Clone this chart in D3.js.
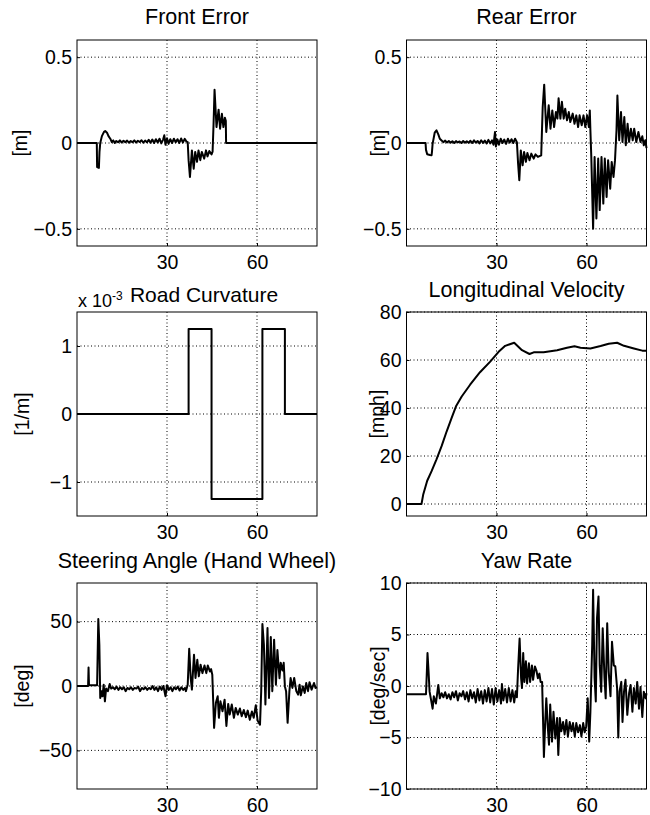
<html>
<head>
<script src="https://cdn.jsdelivr.net/npm/d3@7"></script>
<style>
  body { margin: 0; background: #fff; }
  text { font-family: "Liberation Sans", Arial, Helvetica, sans-serif; fill: #000; }
</style>
</head>
<body>
<script>
// time axis ticks shared by all panels
var xTicks = [30, 60];
var xTickLabels = ["30", "60"];

// [time s, value] pairs
var frontError = [[0,0],[6.6,0],[6.7,-0.14],[7.3,-0.145],[7.5,-0.05],[7.75,0.0],[8.3,0.04],[9.0,0.065],[9.4,0.07],[10.0,0.06],[10.5,0.04],[11.1,0.025],[11.6,0.005],
  [12.1,0.015],[12.6,0.0],[13.1,0.012],[13.7,0.004],[14.3,0.015],[14.9,0.003],[15.5,0.013],[16.1,0.005],[16.7,0.014],[17.3,0.002],[17.9,0.012],[18.5,0.004],[19.1,0.015],[19.7,0.003],[20.3,0.013],[20.9,0.006],[21.5,0.016],[22.1,0.002],[22.7,0.014],[23.3,0.004],[23.9,0.018],[24.5,0.002],[25.1,0.02],[25.7,0.0],[26.3,0.022],[26.9,0.003],[27.5,0.025],[28.1,-0.002],[28.7,0.02],[29.1,0.045],[29.5,-0.01],[30.0,0.028],[30.5,-0.005],[31.1,0.022],[31.7,0.0],[32.3,0.025],[32.9,0.004],[33.5,0.022],[34.1,0.0],[34.7,0.026],[35.3,0.003],[35.9,0.024],[36.5,0.008],[36.9,0.005],
  [37.2,-0.1],[37.65,-0.198],[38.3,-0.043],[38.9,-0.15],[39.4,-0.052],[40.0,-0.11],[40.5,-0.043],[41.1,-0.1],[41.6,-0.052],[42.4,-0.091],[43.0,-0.043],[43.5,-0.078],[44.1,-0.047],[44.85,-0.066],[45.2,-0.05],[45.5,0.1],[45.85,0.31],[46.5,0.093],[47.2,0.194],[47.7,0.083],[48.3,0.17],[48.8,0.093],[49.3,0.147],[49.6,0.13],[49.7,0],[80,0]];

var rearError = [[0,0],[6.35,0],[6.5,-0.04],[6.9,-0.066],[7.8,-0.07],[8.35,-0.072],[8.5,-0.05],[8.7,-0.005],[9.4,0.06],[10.0,0.074],[10.6,0.05],[11.1,0.025],[11.7,0.015],[12.3,0.005],
  [12.9,0.014],[13.5,0.003],[14.1,0.012],[14.7,0.002],[15.3,0.01],[15.9,0.0],[16.5,0.011],[17.1,0.003],[17.7,0.009],[18.3,0.0],[18.9,0.012],[19.5,0.002],[20.1,0.01],[20.7,0.001],[21.3,0.013],[21.9,0.0],[22.5,0.015],[23.1,0.002],[23.7,0.012],[24.3,-0.002],[24.9,0.016],[25.5,0.0],[26.1,0.014],[26.7,-0.003],[27.3,0.018],[27.9,-0.002],[28.5,0.015],[29.0,-0.01],[29.5,0.064],[29.8,-0.02],[30.3,0.02],[30.8,-0.01],[31.4,0.025],[32.0,0.0],[32.6,0.02],[33.2,-0.005],[33.8,0.025],[34.4,0.002],[35.0,0.022],[35.6,0.0],[36.2,0.025],[36.8,0.005],
  [37.2,-0.12],[37.6,-0.217],[38.1,-0.043],[38.7,-0.13],[39.2,-0.052],[39.8,-0.11],[40.3,-0.058],[41.0,-0.10],[41.6,-0.062],[42.4,-0.091],[43.0,-0.066],[43.8,-0.081],[44.9,-0.072],
  [45.4,0.21],[45.9,0.34],[46.6,0.064],[47.4,0.22],[48.0,0.083],[48.6,0.19],[49.2,0.093],[49.8,0.18],[50.3,0.142],[50.7,0.26],[51.3,0.142],[51.8,0.24],[52.4,0.142],[52.9,0.2],[53.5,0.132],[54.1,0.18],[54.6,0.122],[55.4,0.171],[56.0,0.112],[56.6,0.161],[57.2,0.093],[57.7,0.161],[58.4,0.103],[59.0,0.161],[59.6,0.093],[60.2,0.161],[60.8,0.093],[61.1,0.19],[61.3,0.074],[61.6,-0.081],[62.2,-0.5],[62.7,-0.081],[63.3,-0.44],[63.9,-0.091],[64.4,-0.391],[65.0,-0.081],[65.6,-0.353],[66.1,-0.091],[66.7,-0.314],[67.2,-0.1],[67.9,-0.266],[68.4,-0.110],[69.0,-0.198],[69.5,-0.1],[70.0,0.074],[70.3,0.277],[70.9,0.016],[71.5,0.18],[72.0,0.006],[72.6,0.151],[73.1,-0.013],[73.7,0.112],[74.2,0.006],[74.8,0.083],[75.4,0.016],[75.9,0.083],[76.6,0.006],[77.3,0.064],[78.0,0.006],[78.6,0.039],[79.1,-0.013],[79.6,0.016],[80,-0.03]];

var roadCurvature = [[0,0],[37.2,0],[37.2,0.00125],[44.85,0.00125],[44.85,-0.00125],[61.8,-0.00125],[61.8,0.00125],[69.3,0.00125],[69.3,0],[80,0]];

var velocity = [[0,0],[5.0,0],[5.6,4.1],[6.9,9.7],[8.4,13.8],[10.0,18.6],[11.7,24.1],[13.4,30.3],[15.05,35.9],[16.5,40.7],[18.4,44.8],[21.2,49.7],[24.5,54.9],[27.9,59.3],[30.7,63.4],[32.9,65.9],[35.9,67.2],[38.5,64.1],[41.0,62.5],[42.4,63.2],[45.7,63.2],[50.2,64.1],[53.5,65.1],[56.0,65.7],[58.0,65.1],[61.3,64.8],[64.7,65.8],[67.4,66.8],[70.2,67.2],[72.5,65.9],[75.8,64.8],[78.6,63.9],[80,63.9]];

var steering = [[0,0],[3.7,0],[3.85,14.4],[4.0,0.5],[6.7,0.5],[7.1,52],[7.45,32],[7.75,-9.3],[8.2,-4],[8.5,-8],[8.9,1],[9.3,-11.9],[9.7,-2],[10.3,-4],[10.9,1.5],[11.4,-2],
  [12.0,-1],[12.6,-2.5],[13.2,-0.5],[13.8,-3],[14.4,-1],[15.0,-2.5],[15.6,-1],[16.2,-4],[16.8,-1.5],[17.4,-2.5],[18.0,-1],[18.6,-3],[19.2,-1.5],[19.8,-2],[20.4,-0.5],[21.0,-4],[21.6,-1.5],[22.2,-2.5],[22.8,-1],[23.4,-3],[24.0,-1.5],[24.6,-2.5],[25.2,0],[25.8,-3],[26.4,-1],[27.0,-4],[27.6,-0.5],[28.2,-3],[28.8,0],[29.5,-8],[30.0,0.5],[30.6,-3],[31.2,-1],[31.8,-4],[32.4,-1],[33.0,-2.5],[33.6,-0.5],[34.2,-3.5],[34.8,-1],[35.4,-3],[36.0,-1.5],[36.3,-4],
  [36.9,1],[37.4,28.9],[37.9,6.2],[38.3,-2.8],[39.0,24.2],[39.5,6.2],[40.1,20.4],[40.6,7.5],[41.2,16.5],[41.8,10],[42.5,15.9],[43.1,10],[43.6,15.9],[44.3,11.3],[44.7,13.1],[45.1,8.8],[45.4,-11.9],[45.7,-32.5],[46.3,-13.1],[46.9,-8],[47.3,-24.7],[47.8,-11.9],[48.5,-19.6],[49.2,-10.6],[49.8,-31],[50.4,-13.9],[50.9,-22.2],[51.6,-14.4],[52.3,-24.7],[52.9,-17],[53.6,-22.2],[54.3,-17.5],[54.9,-23.5],[55.6,-18.6],[56.3,-24.2],[56.9,-19.1],[57.6,-26.3],[58.3,-19.8],[58.9,-24.7],[59.6,-14.9],[60.2,-26.8],[61.0,-30],[61.4,-4],[61.8,48.2],[62.3,32],[62.8,-14.4],[63.5,45],[64.0,-9.3],[64.6,38],[65.1,-4],[65.7,36],[66.3,1],[66.8,28],[67.5,6],[67.9,18],[68.5,12],[68.9,18],[69.3,-0.3],[69.7,-4],[70.2,-28.6],[70.8,-4],[71.2,6.2],[71.8,-1.5],[72.4,6.2],[73.1,-4],[73.7,-6.7],[74.2,1],[74.6,-7.2],[75.3,-0.3],[75.9,-5.4],[76.4,2.3],[77.0,-4],[77.5,3],[78.2,-2.8],[79.0,2.3],[79.5,-1.5],[80,-1]];

var yawRate = [[0,-0.8],[6.5,-0.8],[6.8,1.5],[7.0,3.2],[7.3,1.7],[7.7,-0.55],[8.1,-1.2],[8.7,-2.2],[9.1,-1.0],[9.8,-1.7],[10.6,0.1],[11.1,-1.2],[11.7,-0.7],[12.3,-1.1],[12.9,-0.6],
  [13.5,-1.2],[14.1,-0.8],[14.7,-1.3],[15.3,-0.6],[15.9,-1.1],[16.5,-0.5],[17.1,-1.4],[17.7,-0.7],[18.3,-1.0],[18.9,-0.5],[19.5,-1.3],[20.1,-0.6],[20.7,-1.5],[21.3,-0.4],[21.9,-1.2],[22.5,-0.6],[23.1,-1.6],[23.7,-0.3],[24.3,-1.4],[24.9,-0.5],[25.5,-1.7],[26.1,-0.4],[26.7,-1.5],[27.3,-0.2],[27.9,-1.6],[28.5,-0.3],[29.1,-1.8],[29.7,-0.2],[30.3,-1.5],[30.9,-0.4],[31.5,-1.7],[31.8,0.2],[32.3,-1.4],[32.9,-0.3],[33.5,-1.6],[34.1,-0.2],[34.7,-1.5],[35.3,-0.4],[35.9,-1.6],[36.4,-0.5],[36.8,-1.1],
  [37.2,1.7],[37.7,4.6],[38.2,0.75],[38.5,-0.2],[38.9,3.2],[39.3,0.4],[39.8,2.4],[40.2,0.25],[40.8,2.2],[41.2,0.4],[41.8,2.0],[42.2,0.6],[42.8,1.9],[43.3,1.5],[43.8,0.75],[44.3,1.2],[44.7,0.4],
  [45.2,0.4],[45.5,-3.1],[45.8,-6.9],[46.3,-3.1],[46.6,-1.2],[47.1,-4.0],[47.5,-5.7],[47.9,-1.8],[48.5,-5.4],[49.0,-2.5],[49.6,-5.1],[50.2,-3.1],[50.6,-6.7],[51.1,-3.1],[51.6,-4.4],[52.2,-3.5],[52.7,-4.7],[53.3,-3.3],[53.8,-4.9],[54.4,-3.5],[55.0,-4.4],[55.5,-3.6],[56.1,-4.9],[56.6,-3.6],[57.2,-4.5],[57.8,-3.8],[58.3,-4.9],[58.9,-3.6],[59.4,-4.5],[59.9,-3.9],[60.4,-1.2],[60.9,-5.4],[61.3,-2.5],[61.9,4.0],[62.2,9.35],[62.7,0.75],[63.1,-1.5],[63.5,6.6],[64.0,8.7],[64.4,2.0],[64.9,-0.55],[65.4,5.6],[66.0,0.75],[66.4,-1.2],[66.9,6.1],[67.4,1.4],[68.0,-1.0],[68.5,4.3],[69.1,2.0],[69.6,1.9],[70.2,-0.2],[70.6,-5.0],[71.0,-0.55],[71.6,0.4],[72.0,-3.5],[72.5,-0.55],[73.0,0.6],[73.6,-2.8],[74.2,-0.7],[74.7,0.1],[75.3,-2.5],[75.8,-0.2],[76.4,-1.7],[76.9,0.4],[77.5,-2.2],[78.0,-0.1],[78.6,-3.0],[79.1,-0.55],[79.7,-1.2],[80,-0.7]];

// y tick values and their labels
var errTicks = [-0.5, 0, 0.5], errLabels = ["\u22120.5", "0", "0.5"];
var curvTicks = [-0.001, 0, 0.001], curvLabels = ["\u22121", "0", "1"];
var velTicks = [0, 20, 40, 60, 80], velLabels = ["0", "20", "40", "60", "80"];
var steerTicks = [-50, 0, 50], steerLabels = ["\u221250", "0", "50"];
var yawTicks = [-10, -5, 0, 5, 10], yawLabels = ["\u221210", "\u22125", "0", "5", "10"];

var w = 650, h = 815;
var boxW = 240;
var tickFont = "19.5px", titleFont = "21.5px";

var svg = d3.select("body")
    .append("svg")
    .attr("width", w)
    .attr("height", h);

function drawPanel(p) {
    var g = svg.append("g").attr("transform", "translate(" + p.x + "," + p.y + ")");
    var x = d3.scaleLinear().domain([0, 80]).range([0, boxW]);
    var y = d3.scaleLinear().domain(p.yDomain).range([p.h, 0]);

    /* dotted grid */
    g.selectAll(".gx").data(xTicks).enter().append("line")
        .attr("x1", function(d) { return x(d); })
        .attr("x2", function(d) { return x(d); })
        .attr("y1", 0).attr("y2", p.h)
        .attr("stroke", "#000").attr("stroke-width", 1)
        .attr("stroke-dasharray", "1,2.5");
    g.selectAll(".gy").data(p.yTicks).enter().append("line")
        .attr("x1", 0).attr("x2", boxW)
        .attr("y1", function(d) { return y(d); })
        .attr("y2", function(d) { return y(d); })
        .attr("stroke", "#000").attr("stroke-width", 1)
        .attr("stroke-dasharray", "1,2.5");

    /* signal */
    g.append("path")
        .datum(p.data)
        .attr("fill", "none")
        .attr("stroke", "#000")
        .attr("stroke-width", 2)
        .attr("stroke-linejoin", "round")
        .attr("d", d3.line().x(function(d) { return x(d[0]); }).y(function(d) { return y(d[1]); }));

    /* axes, ticks point inward */
    var xa = g.append("g").attr("transform", "translate(0," + p.h + ")")
        .call(d3.axisBottom(x).tickValues(xTicks)
            .tickFormat(function(d, i) { return xTickLabels[i]; })
            .tickSize(-3).tickPadding(6));
    var ya = g.append("g")
        .call(d3.axisLeft(y).tickValues(p.yTicks)
            .tickFormat(function(d, i) { return p.yLabels[i]; })
            .tickSize(-3).tickPadding(5));
    [xa, ya].forEach(function(a) {
        a.select(".domain").remove();
        a.attr("font-family", null).attr("font-size", null);
        a.selectAll("text").style("font-size", tickFont);
        a.selectAll("line").attr("stroke", "#000");
    });
    xa.selectAll("text").attr("y", 9);

    /* box */
    g.append("rect")
        .attr("width", boxW).attr("height", p.h)
        .attr("fill", "none").attr("stroke", "#000").attr("stroke-width", 1);

    /* title */
    g.append("text")
        .attr("x", boxW / 2 + (p.titleDx || 0)).attr("y", p.titleY)
        .attr("text-anchor", "middle")
        .style("font-size", p.titleFont || titleFont)
        .text(p.title);

    /* y label */
    g.append("text")
        .attr("transform", "translate(" + p.labelX + "," + (p.h / 2) + ") rotate(-90)")
        .attr("text-anchor", "middle")
        .attr("dy", "0.35em")
        .style("font-size", tickFont)
        .text(p.ylabel);
    return g;
}

drawPanel({x: 77, y: 40, h: 206, yDomain: [-0.6, 0.6], yTicks: errTicks, yLabels: errLabels,
    data: frontError, title: "Front Error", titleY: -16, ylabel: "[m]", labelX: -57});
drawPanel({x: 406.5, y: 40, h: 206, yDomain: [-0.6, 0.6], yTicks: errTicks, yLabels: errLabels,
    data: rearError, title: "Rear Error", titleY: -16, ylabel: "[m]", labelX: -28});
var gc = drawPanel({x: 77, y: 312, h: 204, yDomain: [-0.0015, 0.0015], yTicks: curvTicks, yLabels: curvLabels,
    data: roadCurvature, title: "Road Curvature", titleY: -10, titleDx: 7, titleFont: "21px",
    ylabel: "[1/m]", labelX: -55});
drawPanel({x: 406.5, y: 312, h: 204, yDomain: [-5, 80], yTicks: velTicks, yLabels: velLabels,
    data: velocity, title: "Longitudinal Velocity", titleY: -15, ylabel: "[mph]", labelX: -29});
drawPanel({x: 77, y: 583, h: 206, yDomain: [-80, 80], yTicks: steerTicks, yLabels: steerLabels,
    data: steering, title: "Steering Angle (Hand Wheel)", titleY: -15, ylabel: "[deg]", labelX: -55});
drawPanel({x: 406.5, y: 583, h: 206, yDomain: [-10, 10], yTicks: yawTicks, yLabels: yawLabels,
    data: yawRate, title: "Yaw Rate", titleY: -15, ylabel: "[deg/sec]", labelX: -28});

/* exponent label on the curvature axis */
var ex = gc.append("text").attr("x", 1).attr("y", -5).style("font-size", "18px");
ex.append("tspan").text("x 10");
ex.append("tspan").attr("dy", -7).style("font-size", "12px").text("-3");
</script>
</body>
</html>
